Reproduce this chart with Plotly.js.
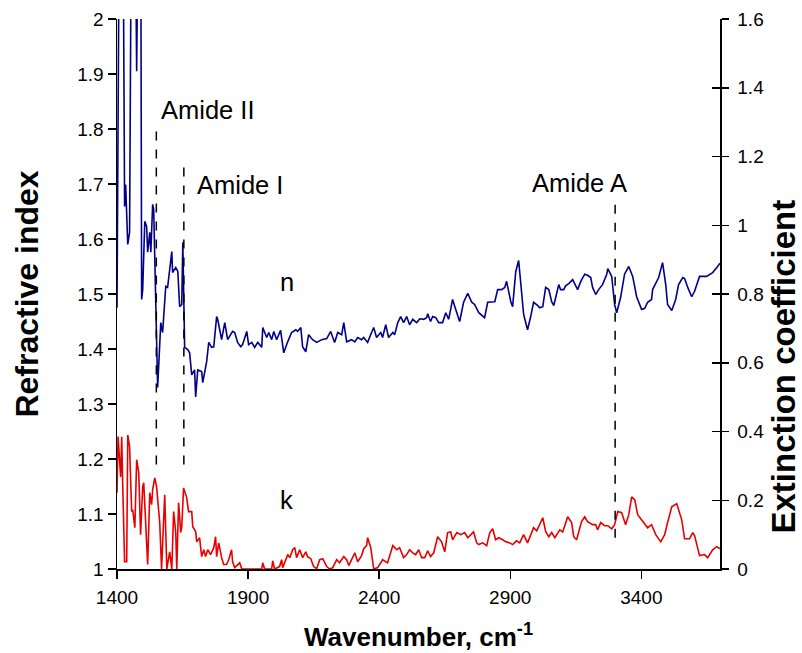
<!DOCTYPE html>
<html>
<head>
<meta charset="utf-8">
<script src="https://cdn.plot.ly/plotly-3.0.1.min.js"></script>
<style>html,body{margin:0;padding:0;background:#fff;}#chart{width:802px;height:653px;}</style>
</head>
<body>
<div id="chart"></div>
<script>
// Refractive index n (left axis)
const nWavenumber = [1400,1410,1422,1429,1433,1441,1448,1456,1468,1475,1483,1490,1494,1498,1506,1513,1517,1525,1529,1536,1540,1548,1555,1567,1574,1586,1593,1609,1612,1624,1632,1639,1647,1651,1658,1670,1677,1685,1696,1700,1708,1723,1727,1742,1750,1761,1769,1780,1784,1799,1811,1822,1841,1849,1860,1872,1879,1895,1902,1914,1925,1937,1952,1956,1971,1979,1990,1998,2009,2024,2036,2051,2066,2082,2089,2101,2108,2120,2131,2146,2162,2181,2200,2215,2230,2242,2257,2265,2276,2295,2307,2318,2333,2341,2356,2371,2379,2390,2406,2413,2425,2436,2452,2459,2471,2482,2493,2505,2516,2528,2543,2555,2570,2581,2585,2596,2604,2616,2627,2642,2654,2665,2680,2692,2707,2722,2738,2753,2764,2780,2802,2814,2829,2841,2852,2867,2879,2886,2902,2909,2921,2932,2951,2966,2978,2989,3005,3012,3024,3035,3047,3058,3066,3077,3085,3092,3104,3111,3123,3138,3149,3157,3169,3184,3195,3207,3214,3226,3237,3252,3268,3272,3287,3298,3306,3321,3336,3352,3367,3382,3401,3413,3424,3439,3443,3466,3481,3493,3500,3516,3531,3542,3558,3565,3577,3592,3603,3622,3649,3672,3691,3700];
const nValues = [1.475,2.3,2.3,1.659,1.699,1.590,1.612,2.3,2.3,1.905,2.3,2.3,1.490,1.508,1.632,1.623,1.576,1.612,1.576,1.663,1.654,1.454,1.330,1.448,1.430,1.514,1.512,1.577,1.539,1.548,1.541,1.477,1.481,1.594,1.403,1.399,1.393,1.353,1.362,1.313,1.362,1.359,1.339,1.377,1.412,1.403,1.404,1.459,1.454,1.417,1.448,1.417,1.432,1.430,1.412,1.404,1.408,1.432,1.408,1.412,1.403,1.412,1.403,1.439,1.421,1.430,1.417,1.432,1.417,1.434,1.393,1.413,1.430,1.435,1.432,1.439,1.404,1.395,1.426,1.417,1.412,1.417,1.419,1.432,1.412,1.430,1.426,1.448,1.413,1.417,1.413,1.421,1.417,1.421,1.412,1.430,1.439,1.421,1.430,1.421,1.444,1.421,1.430,1.426,1.448,1.459,1.448,1.459,1.444,1.454,1.448,1.455,1.454,1.457,1.464,1.450,1.459,1.457,1.448,1.448,1.466,1.454,1.490,1.472,1.450,1.485,1.501,1.485,1.481,1.466,1.457,1.485,1.486,1.486,1.508,1.508,1.512,1.523,1.486,1.477,1.541,1.561,1.463,1.435,1.459,1.485,1.479,1.475,1.477,1.512,1.508,1.486,1.479,1.499,1.517,1.508,1.508,1.515,1.519,1.526,1.514,1.508,1.523,1.536,1.534,1.530,1.512,1.499,1.508,1.517,1.536,1.546,1.532,1.481,1.466,1.494,1.536,1.550,1.532,1.495,1.472,1.474,1.485,1.490,1.508,1.530,1.557,1.517,1.481,1.470,1.490,1.517,1.530,1.528,1.512,1.495,1.505,1.532,1.532,1.539,1.550,1.556];

// Extinction coefficient k (right axis)
const kWavenumber = [1400,1404,1414,1418,1422,1429,1437,1441,1448,1456,1460,1468,1475,1483,1490,1498,1502,1517,1525,1532,1536,1544,1551,1563,1570,1582,1590,1601,1609,1616,1624,1628,1635,1643,1647,1654,1666,1673,1685,1689,1700,1704,1715,1723,1731,1738,1746,1757,1769,1776,1780,1788,1799,1807,1818,1826,1837,1841,1849,1868,1876,1952,1956,1963,1990,1994,2001,2020,2028,2032,2047,2051,2059,2070,2078,2085,2097,2108,2120,2127,2139,2150,2162,2173,2185,2200,2211,2223,2238,2249,2265,2276,2284,2299,2307,2318,2333,2341,2352,2356,2368,2379,2394,2406,2413,2432,2444,2452,2467,2478,2493,2505,2516,2528,2539,2551,2562,2574,2585,2596,2608,2623,2638,2650,2661,2673,2680,2696,2711,2726,2738,2749,2760,2772,2780,2795,2810,2822,2833,2844,2856,2871,2883,2898,2909,2924,2936,2951,2966,2989,3001,3024,3035,3047,3058,3070,3089,3100,3111,3119,3134,3142,3153,3172,3184,3195,3214,3226,3233,3245,3260,3272,3287,3298,3310,3325,3340,3352,3363,3375,3386,3405,3424,3439,3455,3474,3489,3500,3516,3535,3554,3565,3584,3596,3603,3622,3641,3653,3672,3687,3700];
const kValues = [0.222,0.385,0.268,0.385,0.239,0.021,0.021,0.390,0.356,0.167,0.172,0.120,0.318,0.280,0.100,0.239,0.251,0.013,0.222,0.187,0.231,0.265,0.239,0.135,0,0.216,0,0.050,0,0.167,0.106,0,0.193,0.106,0.123,0.236,0.207,0.167,0.167,0.123,0.109,0.079,0.091,0.036,0.056,0.036,0.056,0.042,0.062,0.094,0.036,0.076,0.033,0.013,0.013,0.027,0.056,0.021,0.004,0.018,0,0,0.018,0,0,0.024,0,0.007,0.027,0.004,0.033,0.042,0.033,0.056,0.062,0.033,0.056,0.033,0.050,0.036,0.030,0.007,0.001,0.027,0.030,0.007,0,0.004,0.027,0.018,0.036,0.027,0.010,0.033,0.047,0.021,0.039,0.059,0.068,0.091,0.062,0,0.004,0.018,0.027,0.018,0.050,0.068,0.056,0.062,0.033,0.042,0.056,0.047,0.042,0.056,0.033,0.033,0.053,0.036,0.047,0.094,0.079,0.050,0.106,0.108,0.085,0.106,0.100,0.106,0.091,0.100,0.108,0.076,0.071,0.076,0.068,0.106,0.117,0.085,0.091,0.085,0.079,0.076,0.071,0.082,0.076,0.100,0.076,0.120,0.111,0.149,0.109,0.094,0.106,0.091,0.114,0.108,0.138,0.152,0.135,0.094,0.085,0.138,0.152,0.138,0.129,0.129,0.114,0.135,0.126,0.126,0.117,0.129,0.167,0.164,0.129,0.158,0.210,0.201,0.158,0.138,0.120,0.129,0.100,0.079,0.100,0.135,0.181,0.190,0.143,0.088,0.088,0.106,0.097,0.039,0.042,0.033,0.056,0.065,0.059];

// Band markers
const bandNames = ["Amide II", "Amide I", "Amide A"];
const bandPositions = [1550, 1655, 3300];
const bandLineTop = [1.797, 1.740, 1.678];
const bandLineBottom = [1.19, 1.19, 1.057];
const bandLabelX = [1561, 1698, 2976];
const bandLabelY = [1.835, 1.698, 1.702];

const xTickVals = [1400, 1900, 2400, 2900, 3400];

const FONT = "Liberation Sans, Arial, sans-serif";
const tickFont = {family: FONT, size: 19, color: "#000"};

const traces = [
  {x: nWavenumber, y: nValues, type: "scatter", mode: "lines", name: "n",
   line: {color: "#00008b", width: 1.6}, yaxis: "y", showlegend: false},
  {x: kWavenumber, y: kValues, type: "scatter", mode: "lines", name: "k",
   line: {color: "#e60000", width: 1.6}, yaxis: "y2", showlegend: false},
  {x: [1400], y: [0], type: "scatter", mode: "none", yaxis: "y3", showlegend: false, hoverinfo: "skip"}
];

const shapes = bandPositions.map((p, i) => ({
  type: "line", xref: "x", yref: "y", x0: p, x1: p, y0: bandLineBottom[i], y1: bandLineTop[i],
  line: {color: "#000", width: 1.5, dash: "dash"}
}));

const labelFont = {family: FONT, size: 25.5, color: "#000"};
const annotations = bandNames.map((t, i) => ({
  text: t, xref: "x", yref: "y", x: bandLabelX[i], y: bandLabelY[i],
  xanchor: "left", yanchor: "middle", showarrow: false, font: labelFont
}));
annotations.push({text: "n", xref: "x", yref: "y", x: 2048, y: 1.522, showarrow: false,
  xanchor: "center", yanchor: "middle", font: labelFont});
annotations.push({text: "k", xref: "x", yref: "y", x: 2048, y: 1.126, showarrow: false,
  xanchor: "center", yanchor: "middle", font: labelFont});
// right axis title (placed off-centre as in the reference)
annotations.push({text: "<b>Extinction coefficient</b>", xref: "paper", yref: "paper",
  x: 1.106, y: 0.368, xanchor: "center", yanchor: "middle", textangle: -90, showarrow: false,
  font: {family: FONT, size: 33, color: "#000"}});

const layout = {
  width: 802, height: 653,
  margin: {l: 117, r: 82, t: 19, b: 84},
  paper_bgcolor: "#fff", plot_bgcolor: "#fff",
  showlegend: false,
  font: {family: FONT, color: "#000"},
  xaxis: {
    range: [1400, 3700], tickvals: xTickVals, ticks: "outside", ticklen: 8, tickwidth: 1.5,
    tickcolor: "#000", showline: true, linecolor: "#000", linewidth: 1.5, showgrid: false,
    zeroline: false, tickfont: tickFont, automargin: false, ticklabelstandoff: 3,
    title: {text: "<b>Wavenumber, cm<sup>-1</sup></b>", font: {family: FONT, size: 26, color: "#000"}, standoff: 20}
  },
  yaxis: {
    range: [1, 2], dtick: 0.1, tick0: 1, ticks: "outside", ticklen: 8, tickwidth: 1.5,
    tickcolor: "#000", showline: true, linecolor: "#000", linewidth: 1.5, showgrid: false,
    zeroline: false, tickfont: tickFont, automargin: false,
    title: {text: "<b>Refractive index</b>", font: {family: FONT, size: 32, color: "#000"}, standoff: 29}
  },
  yaxis2: {
    overlaying: "y", side: "right", range: [0, 1.6], dtick: 0.2, tick0: 0,
    ticks: "outside", ticklen: 7, tickwidth: 1.5, tickcolor: "#000",
    showline: true, linecolor: "#000", linewidth: 1.5, showgrid: false, zeroline: false,
    tickfont: tickFont, automargin: false, ticklabelstandoff: 5
  },
  yaxis3: {
    overlaying: "y", side: "right", range: [0, 1.6], dtick: 0.2, tick0: 0,
    ticks: "inside", ticklen: 8, tickwidth: 1.5, tickcolor: "#000",
    showline: false, showgrid: false, zeroline: false, showticklabels: false
  },
  shapes: shapes,
  annotations: annotations
};

Plotly.newPlot("chart", traces, layout, {displayModeBar: false, staticPlot: true});
</script>
</body>
</html>
